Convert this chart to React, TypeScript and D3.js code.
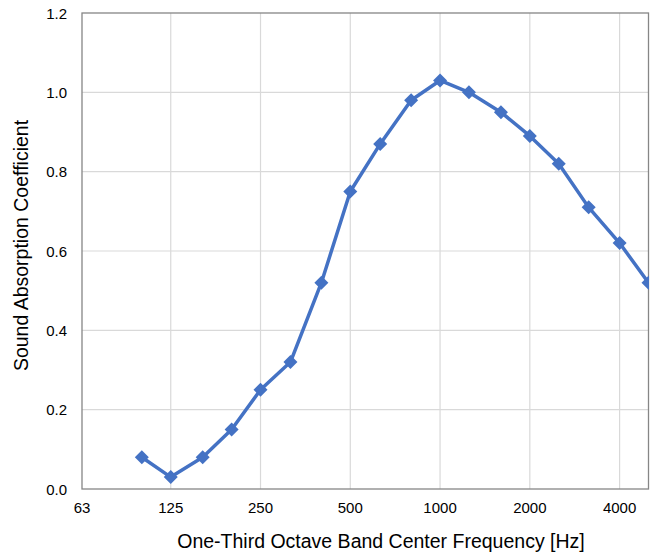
import { useRef, useEffect } from "react";
import * as d3 from "d3";

const W = 650;
const H = 558;
const margin = { top: 13, right: 1.5, bottom: 69, left: 82 };

const freqs = [100, 125, 160, 200, 250, 315, 400, 500, 630, 800, 1000, 1250, 1600, 2000, 2500, 3150, 4000, 5000];
const alpha = [0.08, 0.03, 0.08, 0.15, 0.25, 0.32, 0.52, 0.75, 0.87, 0.98, 1.03, 1.0, 0.95, 0.89, 0.82, 0.71, 0.62, 0.52];
const xTicks = [63, 125, 250, 500, 1000, 2000, 4000];
const yTicks = [0, 0.2, 0.4, 0.6, 0.8, 1.0, 1.2];

const FONT = "'Liberation Sans', Arial, sans-serif";

export default function App() {
  const ref = useRef<SVGSVGElement>(null);

  useEffect(() => {
    const svg = d3.select(ref.current);
    svg.selectAll("*").remove();

    const x = d3.scaleLog().domain([63, 5000]).range([margin.left, W - margin.right]);
    const y = d3.scaleLinear().domain([0, 1.2]).range([H - margin.bottom, margin.top]);

    const g = svg.append("g");

    // grid
    g.selectAll(".vgrid")
      .data(xTicks.slice(1))
      .join("line")
      .attr("x1", d => x(d)).attr("x2", d => x(d))
      .attr("y1", y(0)).attr("y2", y(1.2))
      .attr("stroke", "#d9d9d9").attr("stroke-width", 1.2);
    g.selectAll(".hgrid")
      .data(yTicks.slice(1, -1))
      .join("line")
      .attr("x1", x(63)).attr("x2", x(5000))
      .attr("y1", d => y(d)).attr("y2", d => y(d))
      .attr("stroke", "#d9d9d9").attr("stroke-width", 1.2);

    // frame
    g.append("rect")
      .attr("x", x(63)).attr("y", y(1.2))
      .attr("width", x(5000) - x(63)).attr("height", y(0) - y(1.2))
      .attr("fill", "none").attr("stroke", "#868686").attr("stroke-width", 1.3);

    // tick labels
    g.selectAll(".xt")
      .data(xTicks)
      .join("text")
      .attr("x", d => x(d)).attr("y", y(0) + 23.5)
      .attr("text-anchor", "middle")
      .attr("font-family", FONT).attr("font-size", 15).attr("fill", "#000")
      .text(d => d);
    g.selectAll(".yt")
      .data(yTicks)
      .join("text")
      .attr("x", x(63) - 15).attr("y", d => y(d) + 5.5)
      .attr("text-anchor", "end")
      .attr("font-family", FONT).attr("font-size", 15).attr("fill", "#000")
      .text(d => d3.format(".1f")(d));

    // titles
    g.append("text")
      .attr("x", 381).attr("y", 548)
      .attr("text-anchor", "middle")
      .attr("font-family", FONT).attr("font-size", 19.5).attr("fill", "#000")
      .text("One-Third Octave Band Center Frequency [Hz]");
    g.append("text")
      .attr("transform", "translate(27.5, 245.5) rotate(-90)")
      .attr("text-anchor", "middle")
      .attr("font-family", FONT).attr("font-size", 19.5).attr("fill", "#000")
      .text("Sound Absorption Coefficient");

    const pts = freqs.map((f, i) => [f, alpha[i]] as [number, number]);

    svg.append("defs").append("clipPath").attr("id", "plotclip")
      .append("rect").attr("x", 0).attr("y", 0).attr("width", W - margin.right + 0.5).attr("height", H);

    const series = g.append("g").attr("clip-path", "url(#plotclip)");
    series.append("path")
      .attr("d", d3.line<[number, number]>().x(d => x(d[0])).y(d => y(d[1]))(pts))
      .attr("fill", "none").attr("stroke", "#4472c4").attr("stroke-width", 3.5)
      .attr("stroke-linejoin", "round");

    series.selectAll(".pt")
      .data(pts)
      .join("path")
      .attr("transform", d => `translate(${x(d[0])},${y(d[1])})`)
      .attr("d", d3.symbol(d3.symbolDiamond2, 125)())
      .attr("fill", "#4472c4");
  }, []);

  return (
    <svg
      ref={ref}
      width={W}
      height={H}
      style={{ position: "absolute", left: 0, top: 0, background: "#fff" }}
    />
  );
}
